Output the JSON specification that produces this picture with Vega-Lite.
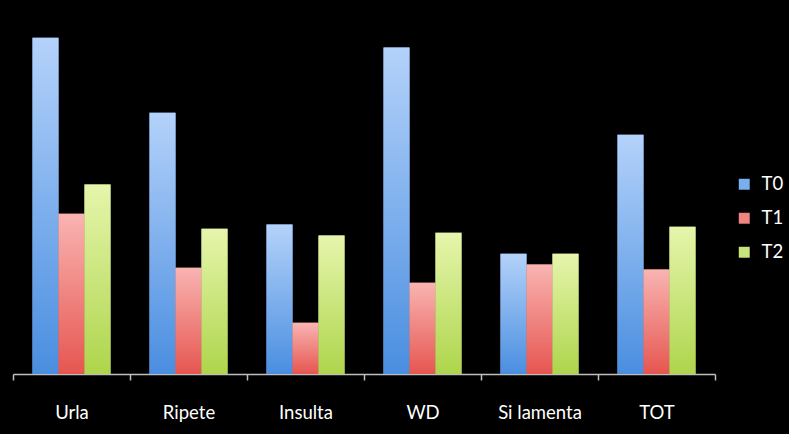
{
  "$schema": "https://vega.github.io/schema/vega-lite/v6.json",
  "width": 702,
  "height": 354,
  "autosize": "none",
  "padding": {"left": 13, "top": 20, "right": 74, "bottom": 60},
  "background": "#000000",
  "config": {"view": {"stroke": null}},
  "data": {"values": [
    {"cat": "Urla", "series": "T0", "v": 95.0},
    {"cat": "Urla", "series": "T1", "v": 45.3},
    {"cat": "Urla", "series": "T2", "v": 53.5},
    {"cat": "Ripete", "series": "T0", "v": 73.8},
    {"cat": "Ripete", "series": "T1", "v": 30.0},
    {"cat": "Ripete", "series": "T2", "v": 41.0},
    {"cat": "Insulta", "series": "T0", "v": 42.2},
    {"cat": "Insulta", "series": "T1", "v": 14.5},
    {"cat": "Insulta", "series": "T2", "v": 39.1},
    {"cat": "WD", "series": "T0", "v": 92.2},
    {"cat": "WD", "series": "T1", "v": 25.8},
    {"cat": "WD", "series": "T2", "v": 39.9},
    {"cat": "Si lamenta", "series": "T0", "v": 34.0},
    {"cat": "Si lamenta", "series": "T1", "v": 30.9},
    {"cat": "Si lamenta", "series": "T2", "v": 34.0},
    {"cat": "TOT", "series": "T0", "v": 67.6},
    {"cat": "TOT", "series": "T1", "v": 29.5},
    {"cat": "TOT", "series": "T2", "v": 41.6}
  ]},
  "encoding": {
    "x": {
      "field": "cat", "type": "nominal", "sort": null, "title": null,
      "scale": {"paddingInner": 0, "paddingOuter": 0},
      "axis": {
        "tickBand": "extent",
        "labelAngle": 0,
        "domainColor": "#bfbfbf",
        "domainWidth": 1.5,
        "tickColor": "#bfbfbf",
        "tickWidth": 1.5,
        "tickSize": 6,
        "labelColor": "#ffffff",
        "labelFont": "Lato",
        "labelFontSize": 18.5,
        "labelPadding": 23
      }
    },
    "xOffset": {"field": "series", "type": "nominal", "scale": {"paddingOuter": 0.75, "paddingInner": 0}},
    "y": {"field": "v", "type": "quantitative", "scale": {"domain": [0, 100]}, "axis": null}
  },
  "layer": [
    {
      "mark": {"type": "bar"},
      "encoding": {
        "color": {
          "field": "series", "type": "nominal",
          "scale": {"domain": ["T0", "T1", "T2"], "range": ["#7aaeee", "#f08480", "#c8e47a"]},
          "legend": {
            "title": null,
            "orient": "none",
            "legendX": 722,
            "legendY": 155,
            "symbolType": "square",
            "symbolSize": 120,
            "symbolStrokeWidth": 0,
            "labelColor": "#ffffff",
            "labelFont": "Lato",
            "labelFontSize": 18.5,
            "labelOffset": 8,
            "rowPadding": 15
          }
        }
      }
    },
    {
      "mark": {"type": "bar"},
      "encoding": {
        "fill": {
          "condition": [
            {"test": "datum.series === 'T0'", "value": {"gradient": "linear", "x1": 0, "y1": 0, "x2": 0, "y2": 1, "stops": [{"offset": 0, "color": "#b4d2fa"}, {"offset": 1, "color": "#4a8ee0"}]}},
            {"test": "datum.series === 'T1'", "value": {"gradient": "linear", "x1": 0, "y1": 0, "x2": 0, "y2": 1, "stops": [{"offset": 0, "color": "#f9b4b2"}, {"offset": 1, "color": "#e65650"}]}}
          ],
          "value": {"gradient": "linear", "x1": 0, "y1": 0, "x2": 0, "y2": 1, "stops": [{"offset": 0, "color": "#e6f5ac"}, {"offset": 1, "color": "#aed54c"}]}
        }
      }
    }
  ]
}
